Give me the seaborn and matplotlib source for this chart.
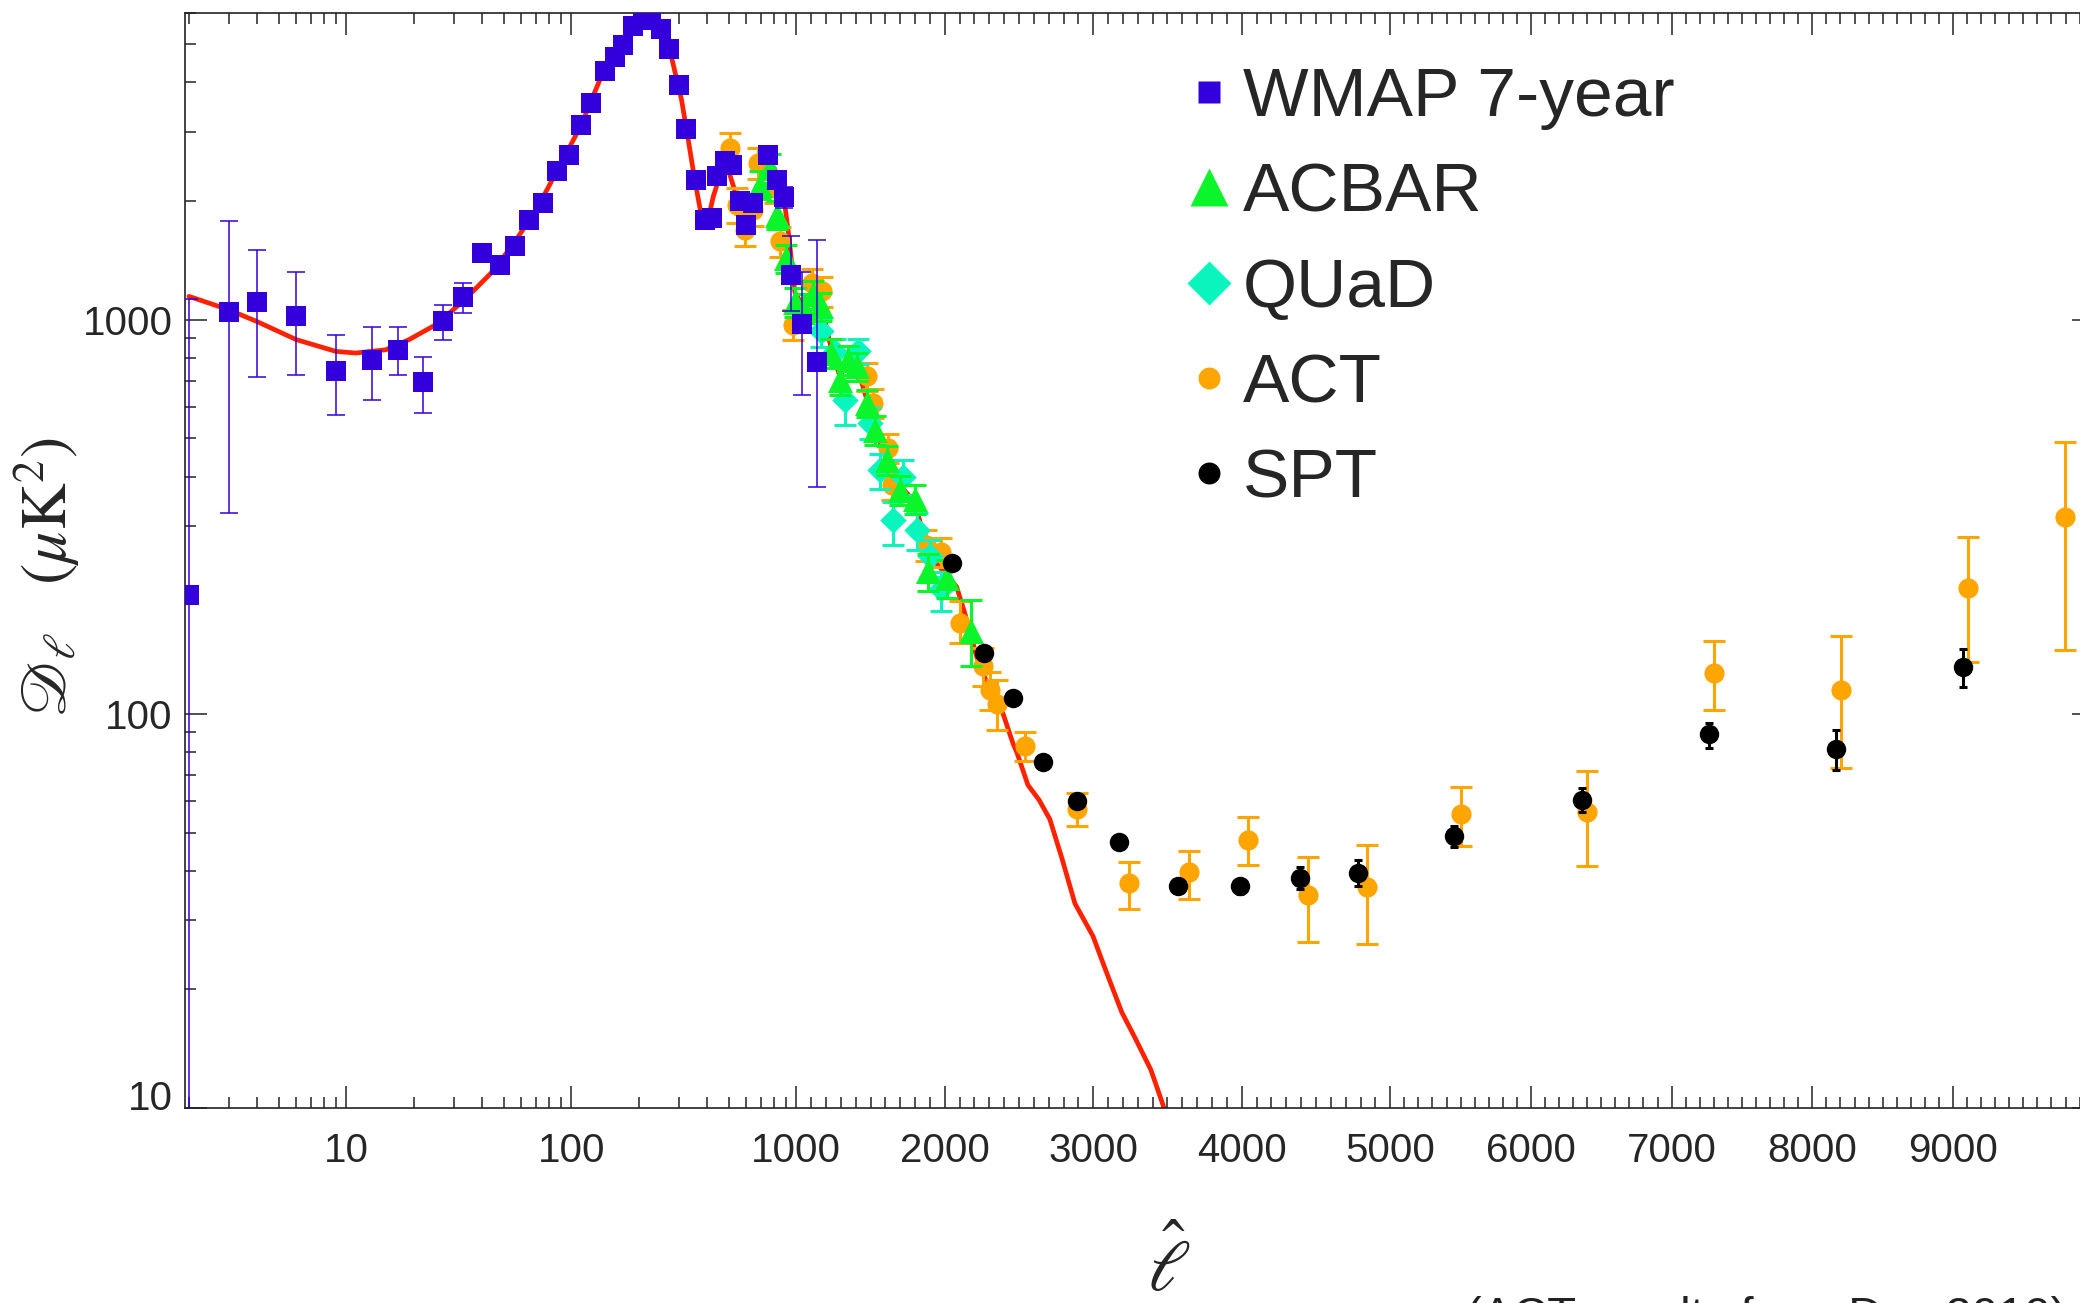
import numpy as np
import pandas as pd
import seaborn as sns
import matplotlib.pyplot as plt
from matplotlib.lines import Line2D
from matplotlib.ticker import FixedLocator, FixedFormatter, NullFormatter
from matplotlib.transforms import ScaledTranslation

# ---- data ----
# theory curve (red)
ell_th = [2, 3, 4, 6, 9, 11, 15, 19, 25, 33, 44, 55, 70, 87, 110, 138, 173, 200, 220, 245,
          272, 309, 325, 353, 385, 399, 428, 457, 490, 543, 561, 597, 640, 700, 760, 800, 881, 930, 987, 1048,
          1114, 1170, 1237, 1293, 1350, 1406, 1474, 1530, 1608, 1697, 1799, 1888, 2012, 2080, 2135, 2214, 2303, 2393, 2460, 2485,
          2560, 2635, 2708, 2789, 2877, 2998, 3085, 3192, 3280, 3388, 3450, 3518]
D_th = [1146, 1060, 990, 890, 831, 823, 839, 890, 971, 1113, 1313, 1550, 1902, 2402, 3096, 4228, 5235, 5700, 5780, 5550,
        4930, 3617, 3053, 2285, 1742, 1725, 2056, 2311, 2480, 2056, 1757, 1720, 1900, 2250, 2500, 2420, 2047, 1600, 1170, 1080,
        1160, 1090, 840, 720, 780, 765, 630, 530, 440, 380, 345, 255, 225, 210, 180, 140, 115, 100, 84, 80,
        66, 60.5, 54, 43, 33, 27.3, 22.3, 17.5, 15.1, 12.5, 10.7, 9]

# WMAP 7-year
ell_wmap = [2, 3, 4, 6, 9, 13, 17, 22, 27, 33, 40, 48, 56, 65, 75, 86, 98, 110, 123, 141,
            156, 170, 188, 208, 226, 250, 272, 301, 325, 358, 392, 421, 443, 482, 516, 561, 597, 643, 750, 817,
            881, 952, 1039, 1138]
D_wmap = [200, 1046, 1107, 1024, 743, 791, 839, 693, 990, 1142, 1476, 1379, 1535, 1786, 1977, 2378, 2622, 3126, 3547, 4285,
          4627, 4988, 5546, 5772, 5800, 5480, 4875, 3945, 3048, 2265, 1795, 1811, 2311, 2524, 2475, 1997, 1742, 1979, 2623, 2265,
          2047, 1301, 977, 780]
lo_wmap = [195, 722, 393, 301, 169, 167, 116, 113, 100, 102, 45, 45, 45, 50, 55, 60, 65, 70, 75, 80,
           85, 90, 95, 95, 95, 95, 90, 80, 70, 60, 55, 55, 60, 65, 65, 60, 60, 65, 90, 100,
           130, 250, 332, 403]
hi_wmap = [930, 736, 393, 297, 173, 165, 117, 111, 102, 97, 45, 45, 45, 50, 55, 60, 65, 70, 75, 80,
           85, 90, 95, 95, 95, 95, 90, 80, 70, 60, 55, 55, 60, 65, 65, 60, 60, 65, 90, 100,
           130, 326, 346, 817]

# ACBAR
ell_acbar = [689, 764, 822, 905, 987, 1052, 1114, 1170, 1237, 1293, 1350, 1406, 1474, 1530, 1608, 1697, 1799, 1888, 2012, 2180]
D_acbar = [2203, 2427, 1847, 1430, 1112, 1073, 1160, 1081, 823, 704, 791, 761, 615, 526, 441, 370, 351, 230, 221, 162]
lo_acbar = [180, 200, 150, 120, 95, 90, 95, 90, 70, 60, 65, 62, 50, 45, 38, 32, 30, 25, 24, 30]
hi_acbar = [180, 200, 150, 120, 95, 90, 95, 90, 70, 60, 65, 62, 50, 45, 38, 32, 30, 25, 24, 33]

# QUaD
ell_quad = [1170, 1258, 1327, 1417, 1496, 1563, 1653, 1720, 1810, 1900, 1978]
D_quad = [934, 826, 627, 831, 547, 416, 310, 400, 293, 251, 207]
lo_quad = [80, 70, 86, 60, 50, 45, 42, 40, 32, 28, 25]
hi_quad = [75, 65, 70, 60, 50, 40, 35, 40, 30, 25, 22]

# ACT
ell_act = [507, 543, 591, 643, 677, 804, 845, 968, 1103, 1174, 1474, 1518, 1619, 1642, 1877, 1978, 2102, 2259, 2303, 2349,
           2540, 2890, 3243, 3647, 4045, 4448, 4844, 5500, 6402, 7303, 8202, 9105, 9795]
D_act = [2729, 1958, 1692, 1902, 2500, 2163, 1580, 971, 1239, 1180, 718, 615, 472, 381, 268, 258, 170, 132, 115, 106,
         83, 57.5, 37.2, 39.7, 47.9, 34.8, 36.3, 55.6, 56.5, 127, 115, 208, 316]
lo_act = [240, 200, 158, 170, 220, 190, 140, 81, 105, 100, 60, 52, 40, 33, 24, 22, 19, 14, 13, 15,
          7, 5.5, 5.2, 5.7, 6.5, 8.5, 10.2, 9.3, 15.5, 25, 42, 73, 171]
hi_act = [248, 200, 160, 175, 230, 190, 140, 85, 105, 100, 60, 52, 40, 33, 24, 22, 23, 15, 13, 16,
          7, 5.5, 4.8, 5.3, 6.9, 8.5, 10.2, 9.8, 15.3, 26, 43, 73, 174]

# SPT
ell_spt = [2046, 2264, 2460, 2663, 2889, 3176, 3573, 3987, 4391, 4785, 5452, 6366, 7264, 8166, 9068]
D_spt = [242, 143, 110, 75.7, 60.1, 47.3, 36.6, 36.5, 38.4, 39.5, 49, 60.5, 88.9, 81.6, 131.5]
lo_spt = [5, 3, 2.5, 2, 2, 1.5, 1.5, 1.5, 2.5, 3, 3, 4, 6.9, 9.6, 14.5]
hi_spt = [5, 3, 2.5, 2, 2, 1.5, 1.5, 1.5, 2.5, 3, 3, 4.5, 6.1, 9.4, 14.5]

x_major = [10, 100, 1000, 2000, 3000, 4000, 5000, 6000, 7000, 8000, 9000]
x_major_labels = ["10", "100", "1000", "2000", "3000", "4000", "5000", "6000", "7000", "8000", "9000"]
y_major = [10, 100, 1000]
y_major_labels = ["10", "100", "1000"]

# ---- style ----
sns.set_theme(style="ticks")
plt.rcParams["font.family"] = ["Liberation Sans", "DejaVu Sans"]
plt.rcParams["mathtext.fontset"] = "stix"

c_red = "#FF2200"
c_wmap = "#3300DD"
c_acbar = "#0AF52A"
c_quad = "#0AF5BE"
c_act = "#FFA500"
c_spt = "#000000"

# log below 1000, (nearly) linear above
K1 = 0.66
K2 = 0.6253
U5 = 3 + 4 * K1

def fwd(x):
    x = np.asarray(x, dtype=float)
    with np.errstate(all="ignore"):
        lg = np.log10(np.clip(x, 1e-12, None))
        l1 = 3 + (x - 1000) / 1000 * K1
        l2 = U5 + (x - 5000) / 1000 * K2
        return np.where(x <= 1000, lg, np.where(x <= 5000, l1, l2))

def inv(u):
    u = np.asarray(u, dtype=float)
    with np.errstate(all="ignore"):
        e = 10 ** np.clip(u, -12, 3)
        l1 = 1000 + (u - 3) / K1 * 1000
        l2 = 5000 + (u - U5) / K2 * 1000
        return np.where(u <= 3, e, np.where(u <= U5, l1, l2))

fig = plt.figure(figsize=(20.8, 13.03), dpi=100)
ax = fig.add_axes([185 / 2080, 195 / 1303, 1908.7 / 2080, 1095 / 1303])
ax.set_xscale("function", functions=(fwd, inv))
ax.set_yscale("log")

theory = pd.DataFrame({"ell": ell_th, "D": D_th})
sns.lineplot(data=theory, x="ell", y="D", color=c_red, lw=3.4, sort=False, estimator=None, ax=ax, zorder=1)

series = [
    # ell, D, lo, hi, color, marker, size, elw, capsize, zorder
    (ell_act, D_act, lo_act, hi_act, c_act, "o", 14.5, 2.2, 8, 2),
    (ell_quad, D_quad, lo_quad, hi_quad, c_quad, "D", 13.5, 2.2, 8, 3),
    (ell_acbar, D_acbar, lo_acbar, hi_acbar, c_acbar, "^", 18, 2.2, 8, 4),
    (ell_wmap, D_wmap, lo_wmap, hi_wmap, c_wmap, "s", 15, 1.1, 6.8, 5),
    (ell_spt, D_spt, lo_spt, hi_spt, c_spt, "o", 14, 2.2, 3, 6),
]
for ell, D, lo, hi, col, mk, ms, elw, cs, z in series:
    ax.errorbar(ell, D, yerr=[lo, hi], fmt="none", ecolor=col, elinewidth=elw,
                capsize=cs, capthick=elw, zorder=z)
    sns.scatterplot(x=ell, y=D, marker=mk, s=ms ** 2, color=col, linewidth=0,
                    ax=ax, zorder=z + 0.5, legend=False)

ax.set_xlim(1.92, 10000)
ax.set_ylim(10, 6000)
ax.set_xlabel("")
ax.set_ylabel("")

# ticks
x_minor = list(range(2, 10)) + list(range(20, 100, 10)) + list(range(200, 1000, 100))
x_minor += [v for v in range(1100, 10000, 100) if v % 1000 != 0]
y_minor = list(range(20, 100, 10)) + list(range(200, 1000, 100)) + list(range(2000, 7000, 1000))
ax.xaxis.set_major_locator(FixedLocator(x_major))
ax.xaxis.set_major_formatter(FixedFormatter(x_major_labels))
ax.xaxis.set_minor_locator(FixedLocator(x_minor))
ax.xaxis.set_minor_formatter(NullFormatter())
ax.yaxis.set_major_locator(FixedLocator(y_major))
ax.yaxis.set_major_formatter(FixedFormatter(y_major_labels))
ax.yaxis.set_minor_locator(FixedLocator(y_minor))
ax.yaxis.set_minor_formatter(NullFormatter())
ax.tick_params(which="both", direction="in", top=True, right=True, width=1.1, color="#222222")
ax.tick_params(which="major", length=16, labelsize=29)
ax.tick_params(which="minor", length=8)
ax.tick_params(axis="x", which="major", pad=17)
ax.tick_params(axis="y", which="major", pad=9)
for sp in ax.spines.values():
    sp.set_linewidth(1.2)
    sp.set_color("#222222")

fig.canvas.draw()
for lab in ax.get_yticklabels():
    if lab.get_text() == "10":
        lab.set_transform(lab.get_transform() + ScaledTranslation(0, 0.13, fig.dpi_scale_trans))

ax.set_ylabel(r"$\mathscr{D}_\ell\ \ \ (\mu\mathrm{K}^2)$", fontsize=46, va="center")
ax.yaxis.set_label_coords(-0.0724, 0.485)
ax.set_xlabel(r"$\hat{\ell}$", fontsize=52, va="center")
ax.xaxis.set_label_coords(0.5155, -0.146)

handles = [
    Line2D([], [], ls="none", marker="s", ms=15.8, color=c_wmap, mec="none"),
    Line2D([], [], ls="none", marker="^", ms=28, color=c_acbar, mec="none"),
    Line2D([], [], ls="none", marker="D", ms=22, color=c_quad, mec="none"),
    Line2D([], [], ls="none", marker="o", ms=15.8, color=c_act, mec="none"),
    Line2D([], [], ls="none", marker="o", ms=15.8, color=c_spt, mec="none"),
]
labels = ["WMAP 7-year", "ACBAR", "QUaD", "ACT", "SPT"]
ax.legend(handles, labels, loc="upper left", bbox_to_anchor=(0.571, 0.949),
          bbox_transform=fig.transFigure, frameon=False, fontsize=50,
          handlelength=0.6, handletextpad=0.2, labelspacing=0.45,
          borderpad=0, borderaxespad=0, numpoints=1)

fig.text(1466 / 2080, 7 / 1303, "(ACT results from Das 2010)", fontsize=34,
         ha="left", va="top", color="#222222")

fig.savefig("out.png", dpi=100)
